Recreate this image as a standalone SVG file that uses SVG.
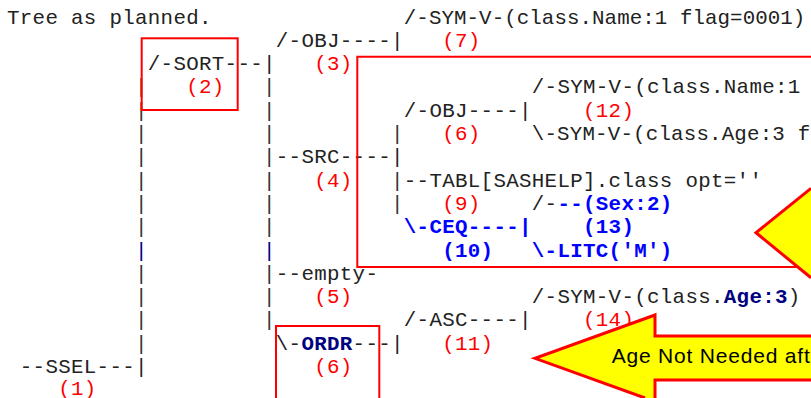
<svg xmlns="http://www.w3.org/2000/svg" width="811" height="398" viewBox="0 0 811 398">
<style>
text { font-family: "Liberation Mono", "DejaVu Sans Mono", monospace; font-size: 20.8px; letter-spacing: 0.32px; fill: #222; white-space: pre; }
.t0 { letter-spacing: 0.07px; }
.t1 { letter-spacing: 0.18px; }
.n { fill: #ff0000; }
.bb { fill: #0000ff; font-weight: bold; }
.nv { fill: #000080; font-weight: bold; }
.cn { fill: #333; }
.cnv { fill: #000080; }
.box { fill: none; stroke: #ff0000; stroke-width: 2; }
.cf { fill: #ffff00; stroke: none; }
.cs { fill: none; stroke: #ff0000; stroke-width: 3; stroke-linejoin: miter; }
.ct { font-family: "Liberation Sans", Arial, sans-serif; font-size: 21px; letter-spacing: 0.8px; fill: #000; }
</style>
<rect width="811" height="398" fill="#fff"/>
<g id="title"><text x="7" y="23.5">Tree as planned.</text></g>
<g id="connectors">
<text class="cn" x="135" y="93.4">|</text>
<text class="cn" x="135" y="116.7">|</text>
<text class="cn" x="135" y="140">|</text>
<text class="cn" x="135" y="163.3">|</text>
<text class="cn" x="135" y="186.6">|</text>
<text class="cn" x="135" y="209.9">|</text>
<text class="cn" x="135" y="233.2">|</text>
<text class="cnv" x="135" y="256.5">|</text>
<text class="cn" x="135" y="279.8">|</text>
<text class="cn" x="135" y="303.1">|</text>
<text class="cn" x="135" y="326.4">|</text>
<text class="cn" x="135" y="349.7">|</text>
<text class="cn" x="263" y="93.4">|</text>
<text class="cn" x="263" y="116.7">|</text>
<text class="cn" x="263" y="140">|</text>
<text class="cn" x="263" y="163.3">|</text>
<text class="cn" x="263" y="186.6">|</text>
<text class="cn" x="263" y="209.9">|</text>
<text class="cn" x="263" y="233.2">|</text>
<text class="cnv" x="263" y="256.5">|</text>
<text class="cn" x="263" y="279.8">|</text>
<text class="cn" x="263" y="303.1">|</text>
<text class="cn" x="263" y="326.4">|</text>
<text class="cn" x="391" y="140">|</text>
<text class="cn" x="391" y="186.6">|</text>
<text class="cn" x="391" y="209.9">|</text>
</g>
<g id="node-ssel"><text x="19.8" y="373">--SSEL---|</text><text class="n" x="58.2" y="394.8">(1)</text></g>
<g id="node-sort"><text x="147.8" y="70.1">/-SORT---|</text><text class="n" x="186.2" y="93.4">(2)</text></g>
<g id="node-obj3"><text x="275.8" y="46.8">/-OBJ----|</text><text class="n" x="314.2" y="70.1">(3)</text></g>
<g id="node-src"><text x="275.8" y="163.3">--SRC----|</text><text class="n" x="314.2" y="186.6">(4)</text></g>
<g id="node-empty"><text x="275.8" y="279.8">--empty-</text><text class="n" x="314.2" y="303.1">(5)</text></g>
<g id="node-ordr"><text x="275.8" y="349.7">\-<tspan class="nv">ORDR</tspan>---|</text><text class="n" x="314.2" y="373">(6)</text></g>
<g id="node-sym7"><text class="t0" x="403.8" y="23.5">/-SYM-V-(class.Name:1 flag=0001)</text><text class="n" x="442.2" y="46.8">(7)</text></g>
<g id="node-obj6"><text x="403.8" y="116.7">/-OBJ----|</text><text class="n" x="442.2" y="140">(6)</text></g>
<g id="node-tabl"><text x="403.8" y="186.6">--TABL[SASHELP].class opt=''</text><text class="n" x="442.2" y="209.9">(9)</text></g>
<g id="node-ceq"><text class="bb" x="403.8" y="233.2">\-CEQ----|</text><text class="bb" x="442.2" y="256.5">(10)</text></g>
<g id="node-asc"><text x="403.8" y="326.4">/-ASC----|</text><text class="n" x="442.2" y="349.7">(11)</text></g>
<g id="node-sym12"><text x="531.8" y="93.4">/-SYM-V-(class.Name:1</text><text class="n" x="583" y="116.7">(12)</text></g>
<g id="node-symage"><text class="t1" x="531.8" y="140">\-SYM-V-(class.Age:3 f</text></g>
<g id="node-sex"><text x="531.8" y="209.9">/-<tspan class="bb">--(Sex:2)</tspan></text><text class="bb" x="583" y="233.2">(13)</text></g>
<g id="node-litc"><text class="bb" x="531.8" y="256.5">\-LITC('M')</text></g>
<g id="node-sym14"><text x="531.8" y="303.1">/-SYM-V-(class.<tspan class="nv">Age:3</tspan>)</text><text class="n" x="583" y="326.4">(14)</text></g>
<g id="highlights">
<rect class="box" x="141.7" y="38.3" width="96" height="71.7"/>
<path class="box" d="M811,56.7 H357.3 V267 H811"/>
<path class="box" d="M276,398 V326 H379.3 V398"/>
</g>
<g id="callout-upper">
<polygon class="cf" points="811,188.3 756,232.7 811,277.8"/>
<polyline class="cs" points="811,188.3 756,232.7 811,277.8"/>
</g>
<g id="callout-lower">
<polygon class="cf" points="535,358.3 655,315 655,336 811,336 811,380 655,380 655,398 645,398"/>
<path class="cs" d="M811,336 H655 V315 L535,358.3 L645,398 M655,398 V380 H811"/>
<text class="ct" x="611.7" y="363.3">Age Not Needed aft</text>
</g>
</svg>
